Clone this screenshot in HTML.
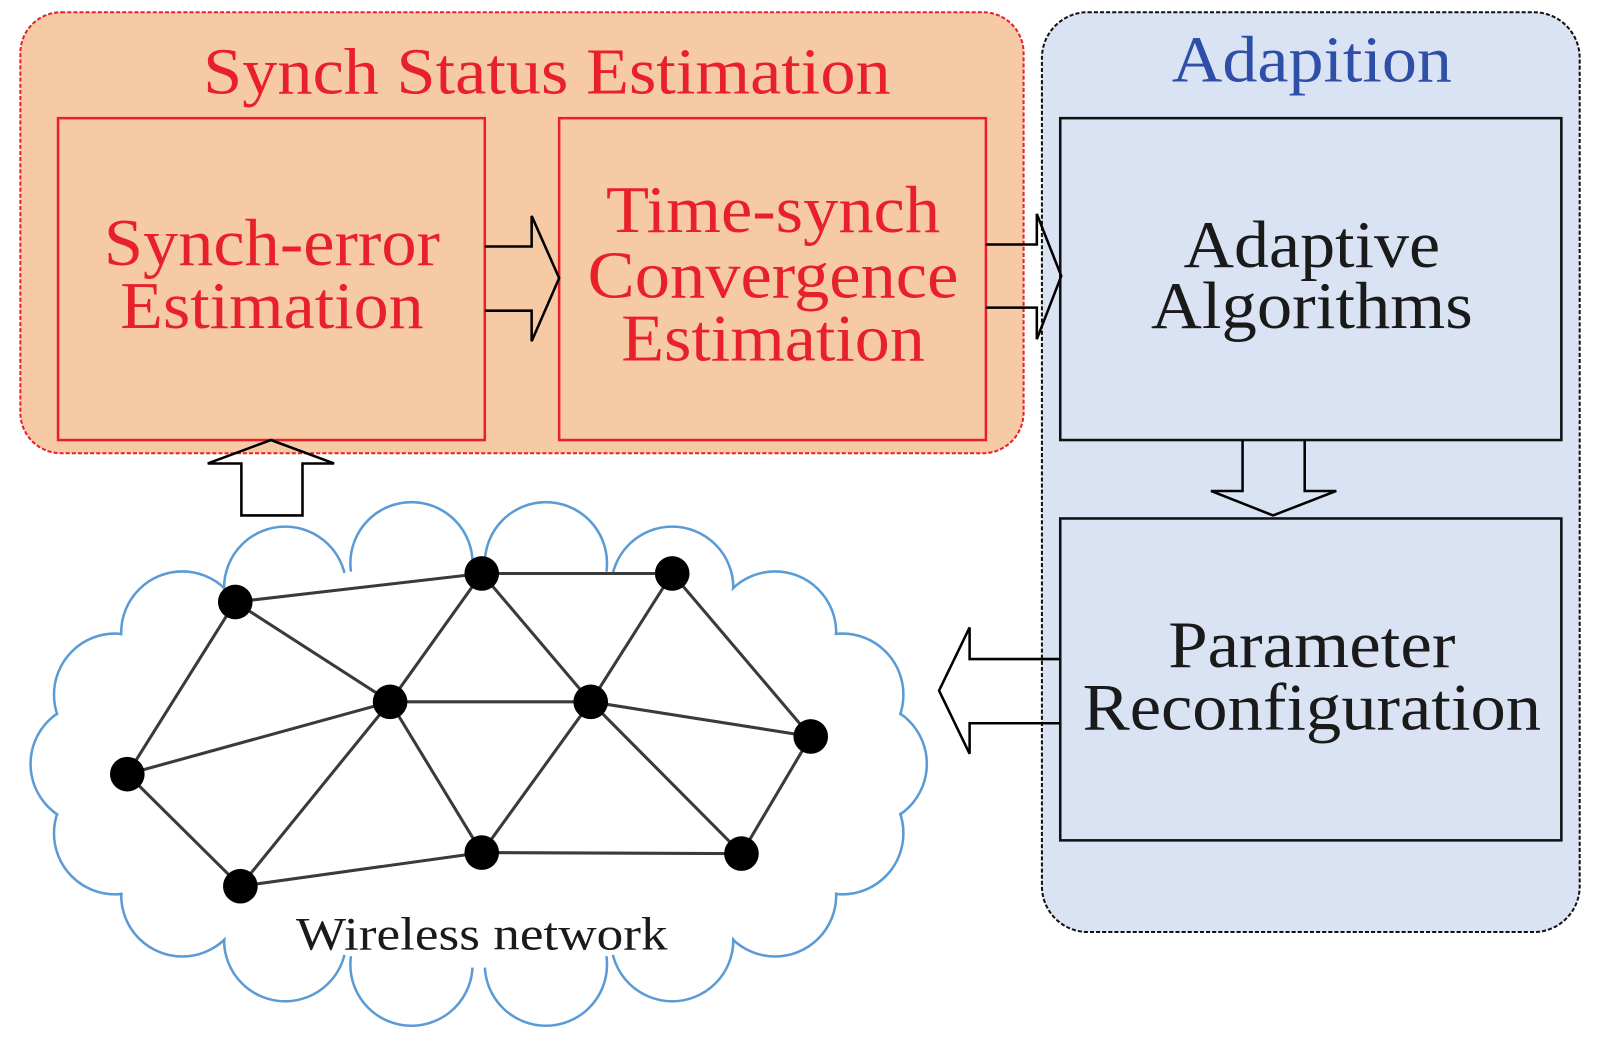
<!DOCTYPE html>
<html><head><meta charset="utf-8"><style>html,body{margin:0;padding:0;background:#fff}svg{display:block}</style></head>
<body>
<svg width="1597" height="1040" viewBox="0 0 1568 1021" preserveAspectRatio="none" xmlns="http://www.w3.org/2000/svg" font-family="'Liberation Serif', serif">
<rect x="20" y="12" width="985" height="433" rx="40" fill="#f7caa6" stroke="#e8202a" stroke-width="2" stroke-dasharray="4,2"/>
<rect x="1023" y="12" width="528" height="903" rx="45" fill="#dae3f3" stroke="#111" stroke-width="2" stroke-dasharray="4,2"/>
<text x="537" y="92" text-anchor="middle" font-size="64" fill="#e8202a" textLength="675" lengthAdjust="spacingAndGlyphs">Synch Status Estimation</text>
<text x="1288" y="80" text-anchor="middle" font-size="64" fill="#2e4fa8" textLength="275" lengthAdjust="spacingAndGlyphs">Adapition</text>
<rect x="57" y="116" width="419" height="316" fill="none" stroke="#e8202a" stroke-width="2.5"/>
<rect x="549" y="116" width="419" height="316" fill="none" stroke="#e8202a" stroke-width="2.5"/>
<g font-size="66" fill="#e8202a" text-anchor="middle">
<text x="267" y="260" textLength="330" lengthAdjust="spacingAndGlyphs">Synch-error</text>
<text x="267" y="322" textLength="298" lengthAdjust="spacingAndGlyphs">Estimation</text>
<text x="759" y="228" textLength="328" lengthAdjust="spacingAndGlyphs">Time-synch</text>
<text x="759" y="292" textLength="364" lengthAdjust="spacingAndGlyphs">Convergence</text>
<text x="759" y="354" textLength="298" lengthAdjust="spacingAndGlyphs">Estimation</text>
</g>
<rect x="1041" y="116" width="492" height="316" fill="none" stroke="#111" stroke-width="2.5"/>
<rect x="1041" y="509" width="492" height="316" fill="none" stroke="#111" stroke-width="2.5"/>
<g font-size="66" fill="#1a1a1a" text-anchor="middle">
<text x="1288" y="262" textLength="252" lengthAdjust="spacingAndGlyphs">Adaptive</text>
<text x="1288" y="322" textLength="316" lengthAdjust="spacingAndGlyphs">Algorithms</text>
<text x="1288" y="655" textLength="282" lengthAdjust="spacingAndGlyphs">Parameter</text>
<text x="1288" y="716" textLength="450" lengthAdjust="spacingAndGlyphs">Reconfiguration</text>
</g>
<g fill="none" stroke="#000" stroke-width="2.5" stroke-linejoin="miter">
<path d="M476 242 H522 V212 L549 273 L522 335 V305 H476"/>
<path d="M968 240 H1018 V210 L1042 271 L1018 333 V302 H968"/>
<path d="M1220 432 V482 H1189 L1250 506 L1312 482 H1281 V432"/>
<path d="M1041 647 H952 V616 L922 678 L952 740 V710 H1041"/>
<path d="M237 506 V455 H204 L266 432 L328 455 H297 V506 Z"/>
</g>
<g fill="#fff" stroke="#5b9bd5" stroke-width="2.5">
<circle cx="850" cy="750" r="60"/><circle cx="827" cy="818" r="60"/><circle cx="761" cy="879" r="60"/><circle cx="660" cy="923" r="60"/><circle cx="536" cy="947" r="60"/><circle cx="404" cy="947" r="60"/><circle cx="280" cy="923" r="60"/><circle cx="179" cy="879" r="60"/><circle cx="113" cy="818" r="60"/><circle cx="90" cy="750" r="60"/><circle cx="113" cy="682" r="60"/><circle cx="179" cy="621" r="60"/><circle cx="280" cy="577" r="60"/><circle cx="404" cy="553" r="60"/><circle cx="536" cy="553" r="60"/><circle cx="660" cy="577" r="60"/><circle cx="761" cy="621" r="60"/><circle cx="827" cy="682" r="60"/>
</g>
<g fill="#fff">
<circle cx="850" cy="750" r="58.5"/><circle cx="827" cy="818" r="58.5"/><circle cx="761" cy="879" r="58.5"/><circle cx="660" cy="923" r="58.5"/><circle cx="536" cy="947" r="58.5"/><circle cx="404" cy="947" r="58.5"/><circle cx="280" cy="923" r="58.5"/><circle cx="179" cy="879" r="58.5"/><circle cx="113" cy="818" r="58.5"/><circle cx="90" cy="750" r="58.5"/><circle cx="113" cy="682" r="58.5"/><circle cx="179" cy="621" r="58.5"/><circle cx="280" cy="577" r="58.5"/><circle cx="404" cy="553" r="58.5"/><circle cx="536" cy="553" r="58.5"/><circle cx="660" cy="577" r="58.5"/><circle cx="761" cy="621" r="58.5"/><circle cx="827" cy="682" r="58.5"/>
<ellipse cx="470" cy="750" rx="380" ry="200"/>
</g>
<g stroke="#3a3a3a" stroke-width="3" fill="none">
<line x1="231" y1="591" x2="473" y2="563"/><line x1="473" y1="563" x2="660" y2="563"/>
<line x1="231" y1="591" x2="383" y2="689"/><line x1="231" y1="591" x2="125" y2="760"/>
<line x1="473" y1="563" x2="383" y2="689"/><line x1="473" y1="563" x2="580" y2="689"/>
<line x1="660" y1="563" x2="580" y2="689"/><line x1="660" y1="563" x2="796" y2="723"/>
<line x1="383" y1="689" x2="580" y2="689"/><line x1="580" y1="689" x2="796" y2="723"/>
<line x1="125" y1="760" x2="383" y2="689"/><line x1="125" y1="760" x2="236" y2="870"/>
<line x1="383" y1="689" x2="236" y2="870"/><line x1="383" y1="689" x2="473" y2="837"/>
<line x1="580" y1="689" x2="473" y2="837"/><line x1="580" y1="689" x2="728" y2="838"/>
<line x1="796" y1="723" x2="728" y2="838"/><line x1="236" y1="870" x2="473" y2="837"/>
<line x1="473" y1="837" x2="728" y2="838"/>
</g>
<g fill="#000">
<circle cx="231" cy="591" r="17"/><circle cx="473" cy="563" r="17"/><circle cx="660" cy="563" r="17"/><circle cx="383" cy="689" r="17"/><circle cx="580" cy="689" r="17"/><circle cx="796" cy="723" r="17"/><circle cx="125" cy="760" r="17"/><circle cx="236" cy="870" r="17"/><circle cx="473" cy="837" r="17"/><circle cx="728" cy="838" r="17"/>
</g>
<text x="473" y="932" text-anchor="middle" font-size="46" fill="#1a1a1a" textLength="365" lengthAdjust="spacingAndGlyphs">Wireless network</text>
</svg>
</body></html>
